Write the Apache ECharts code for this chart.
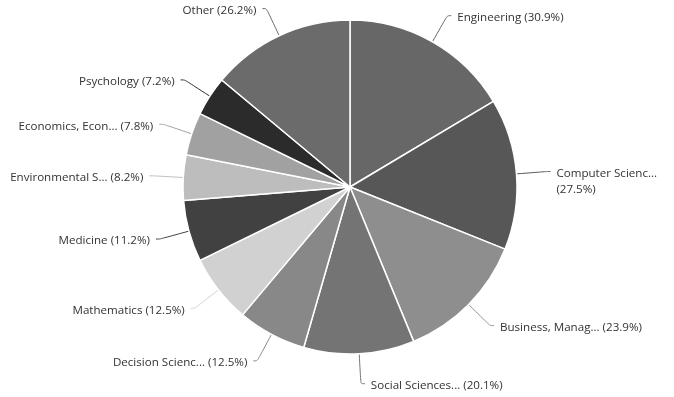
<!DOCTYPE html>
<html>
<head>
<meta charset="utf-8">
<script src="https://cdn.jsdelivr.net/npm/echarts@6/dist/echarts.min.js"></script>
<style>
  html, body { margin: 0; padding: 0; background: #fff; }
  #chart { width: 674px; height: 397px; }
</style>
</head>
<body>
<div id="chart"></div>
<script>
// Subject areas and their shares (per cent of documents; an item can sit in several areas)
const categories = [
  'Engineering',
  'Computer Scienc...',
  'Business, Manag...',
  'Social Sciences...',
  'Decision Scienc...',
  'Mathematics',
  'Medicine',
  'Environmental S...',
  'Economics, Econ...',
  'Psychology',
  'Other'
];
const shares = [30.9, 27.5, 23.9, 20.1, 12.5, 12.5, 11.2, 8.2, 7.8, 7.2, 26.2];
const sliceColors = [
  '#676767', '#575757', '#8e8e8e', '#747474', '#888888', '#d1d1d1',
  '#414141', '#bdbdbd', '#a1a1a1', '#2b2b2b', '#6b6b6b'
];

const data = categories.map((name, i) => {
  const item = { name: name, value: shares[i], itemStyle: { color: sliceColors[i] } };
  if (name === 'Computer Scienc...') {
    // long name: percentage goes on a second line
    item.label = { formatter: '{b}\n({c}%)', offset: [0, 10] };
  }
  return item;
});

const chart = echarts.init(document.getElementById('chart'));
chart.setOption({
  animation: false,
  series: [{
    type: 'pie',
    center: [350, 187],
    radius: [0, 167],
    startAngle: 90,
    clockwise: true,
    avoidLabelOverlap: false,
    data: data,
    itemStyle: { borderColor: '#ffffff', borderWidth: 1.5 },
    label: {
      show: true,
      formatter: '{b} ({c}%)',
      color: '#333333',
      fontFamily: 'Open Sans',
      fontSize: 11.6,
      lineHeight: 16,
      overflow: 'none',
      offset: [0, 2],
      distanceToLabelLine: 6
    },
    labelLine: {
      show: true,
      length: 30,
      length2: 4,
      smooth: 0.3,
      lineStyle: { width: 1 }
    },
    emphasis: { disabled: true }
  }]
});
</script>
</body>
</html>
